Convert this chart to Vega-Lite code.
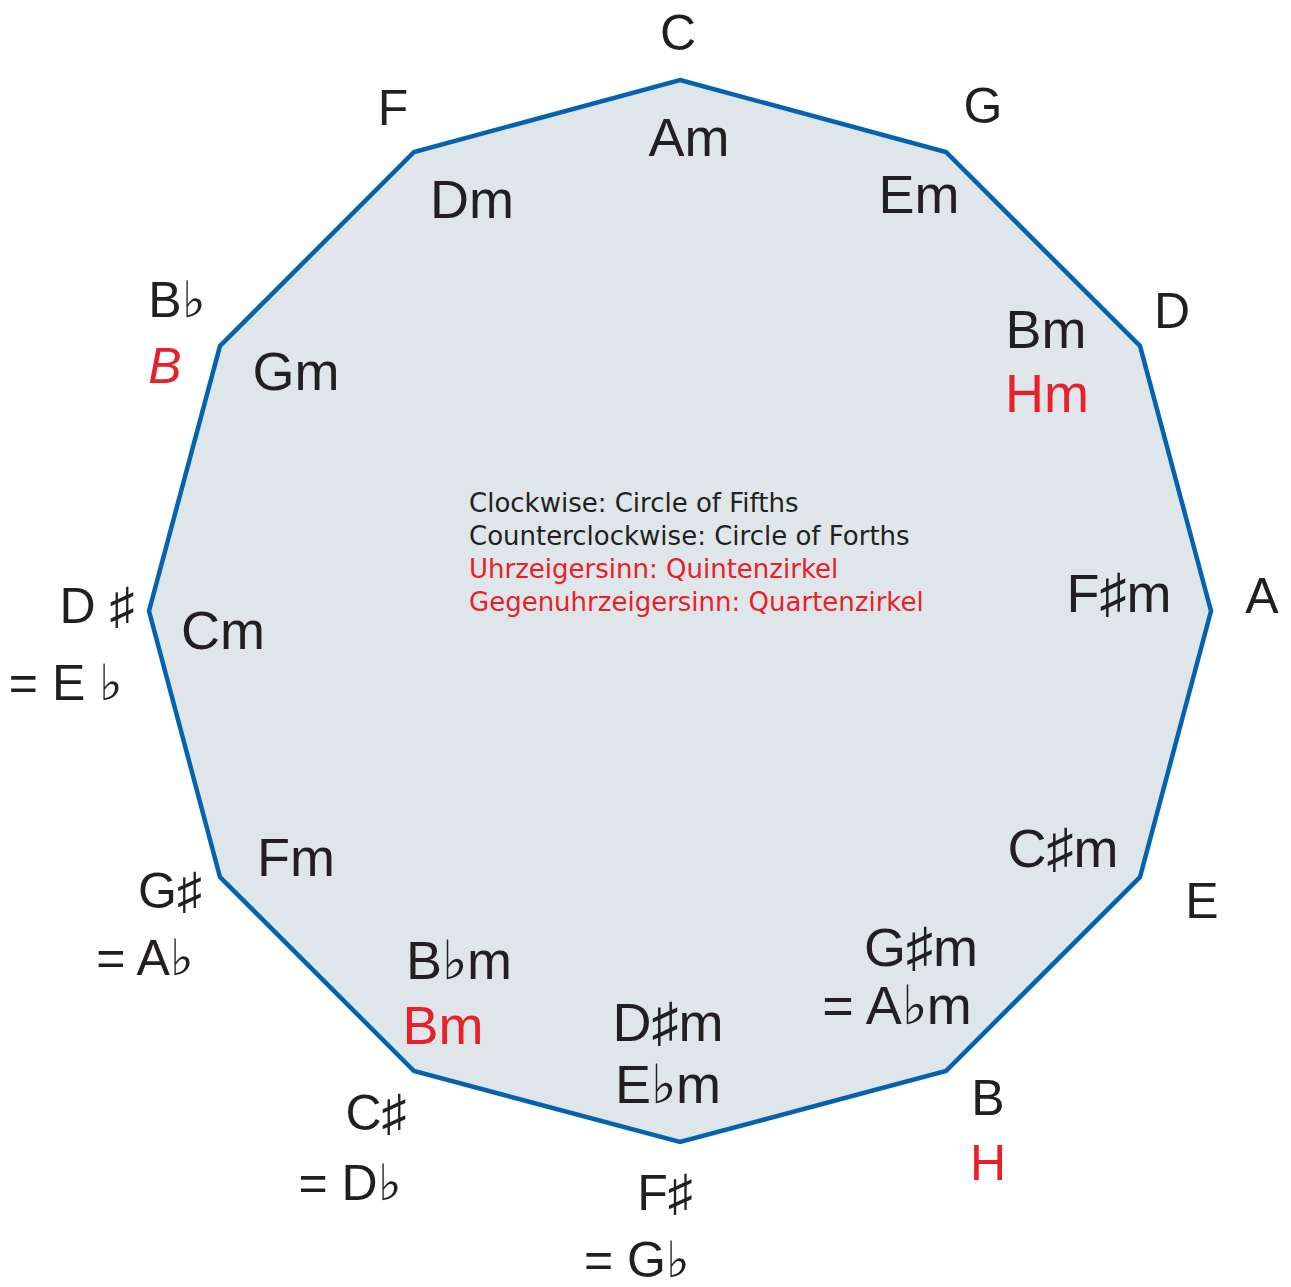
{
  "$schema": "https://vega.github.io/schema/vega-lite/v6.json",
  "width": 1291,
  "height": 1287,
  "padding": 0,
  "autosize": {"type": "fit", "contains": "padding"},
  "background": "white",
  "config": {"view": {"stroke": null}},
  "datasets": {
    "poly": [
      {"i": 0, "x": 680, "y": 80},
      {"i": 1, "x": 946, "y": 152},
      {"i": 2, "x": 1140, "y": 346},
      {"i": 3, "x": 1211, "y": 611},
      {"i": 4, "x": 1140, "y": 877},
      {"i": 5, "x": 946, "y": 1071},
      {"i": 6, "x": 680, "y": 1142},
      {"i": 7, "x": 414, "y": 1071},
      {"i": 8, "x": 220, "y": 877},
      {"i": 9, "x": 149, "y": 611},
      {"i": 10, "x": 220, "y": 346},
      {"i": 11, "x": 414, "y": 152}
    ],
    "labels": [
      {"t": "C", "x": 678, "y": 35, "kind": "major", "lang": "en"},
      {"t": "G", "x": 983, "y": 108, "kind": "major", "lang": "en"},
      {"t": "D", "x": 1172, "y": 313, "kind": "major", "lang": "en"},
      {"t": "A", "x": 1262, "y": 598, "kind": "major", "lang": "en"},
      {"t": "E", "x": 1202, "y": 903, "kind": "major", "lang": "en"},
      {"t": "B", "x": 988, "y": 1100, "kind": "major", "lang": "en"},
      {"t": "H", "x": 988, "y": 1165, "kind": "major", "lang": "de"},
      {"t": "F♯", "x": 665, "y": 1195, "kind": "major", "lang": "en"},
      {"t": "= G♭", "x": 637, "y": 1262, "kind": "major", "lang": "en"},
      {"t": "C♯", "x": 376, "y": 1115, "kind": "major", "lang": "en"},
      {"t": "= D♭", "x": 350, "y": 1185, "kind": "major", "lang": "en"},
      {"t": "G♯", "x": 170, "y": 893, "kind": "major", "lang": "en"},
      {"t": "= A♭", "x": 145, "y": 960, "kind": "major", "lang": "en"},
      {"t": "D ♯", "x": 97, "y": 608, "kind": "major", "lang": "en"},
      {"t": "= E ♭", "x": 66, "y": 685, "kind": "major", "lang": "en"},
      {"t": "B♭", "x": 177, "y": 302, "kind": "major", "lang": "en"},
      {"t": "F", "x": 393, "y": 110, "kind": "major", "lang": "en"},
      {"t": "Am", "x": 689, "y": 140, "kind": "minor", "lang": "en"},
      {"t": "Em", "x": 919, "y": 197, "kind": "minor", "lang": "en"},
      {"t": "Bm", "x": 1046, "y": 332, "kind": "minor", "lang": "en"},
      {"t": "Hm", "x": 1047, "y": 396, "kind": "minor", "lang": "de"},
      {"t": "F♯m", "x": 1119, "y": 596, "kind": "minor", "lang": "en"},
      {"t": "C♯m", "x": 1063, "y": 851, "kind": "minor", "lang": "en"},
      {"t": "G♯m", "x": 921, "y": 950, "kind": "minor", "lang": "en"},
      {"t": "= A♭m", "x": 897, "y": 1008, "kind": "minor", "lang": "en"},
      {"t": "D♯m", "x": 668, "y": 1025, "kind": "minor", "lang": "en"},
      {"t": "E♭m", "x": 668, "y": 1087, "kind": "minor", "lang": "en"},
      {"t": "B♭m", "x": 459, "y": 963, "kind": "minor", "lang": "en"},
      {"t": "Bm", "x": 443, "y": 1028, "kind": "minor", "lang": "de"},
      {"t": "Fm", "x": 296, "y": 860, "kind": "minor", "lang": "en"},
      {"t": "Cm", "x": 223, "y": 633, "kind": "minor", "lang": "en"},
      {"t": "Gm", "x": 296, "y": 374, "kind": "minor", "lang": "en"},
      {"t": "Dm", "x": 472, "y": 202, "kind": "minor", "lang": "en"}
    ],
    "italic": [
      {"t": "B", "x": 165, "y": 368, "lang": "de"}
    ],
    "notes": [
      {"t": "Clockwise: Circle of Fifths", "x": 469, "y": 504, "lang": "en"},
      {"t": "Counterclockwise: Circle of Forths", "x": 469, "y": 537, "lang": "en"},
      {"t": "Uhrzeigersinn: Quintenzirkel", "x": 469, "y": 570, "lang": "de"},
      {"t": "Gegenuhrzeigersinn: Quartenzirkel", "x": 469, "y": 603, "lang": "de"}
    ]
  },
  "encoding": {
    "x": {"field": "x", "type": "quantitative", "scale": {"domain": [0, 1291], "nice": false, "zero": false}, "axis": null},
    "y": {"field": "y", "type": "quantitative", "scale": {"domain": [0, 1287], "nice": false, "zero": false, "reverse": true}, "axis": null}
  },
  "layer": [
    {
      "data": {"name": "poly"},
      "mark": {"type": "line", "interpolate": "linear-closed", "fill": "#dee6e9", "stroke": "#0562b0", "strokeWidth": 4.5, "strokeJoin": "miter"},
      "encoding": {"order": {"field": "i", "type": "quantitative"}}
    },
    {
      "data": {"name": "labels"},
      "mark": {"type": "text", "font": "Liberation Sans", "align": "center", "baseline": "middle"},
      "encoding": {
        "text": {"field": "t"},
        "size": {"field": "kind", "type": "nominal", "scale": {"domain": ["major", "minor"], "range": [50, 54]}, "legend": null},
        "color": {"field": "lang", "type": "nominal", "scale": {"domain": ["en", "de"], "range": ["#231f20", "#e8202a"]}, "legend": null}
      }
    },
    {
      "data": {"name": "italic"},
      "mark": {"type": "text", "font": "Liberation Sans", "fontStyle": "italic", "align": "center", "baseline": "middle", "fontSize": 50},
      "encoding": {
        "text": {"field": "t"},
        "color": {"field": "lang", "type": "nominal", "scale": {"domain": ["en", "de"], "range": ["#231f20", "#e8202a"]}, "legend": null}
      }
    },
    {
      "data": {"name": "notes"},
      "mark": {"type": "text", "font": "DejaVu Sans", "align": "left", "baseline": "middle", "fontSize": 26},
      "encoding": {
        "text": {"field": "t"},
        "color": {"field": "lang", "type": "nominal", "scale": {"domain": ["en", "de"], "range": ["#231f20", "#e8202a"]}, "legend": null}
      }
    }
  ]
}
